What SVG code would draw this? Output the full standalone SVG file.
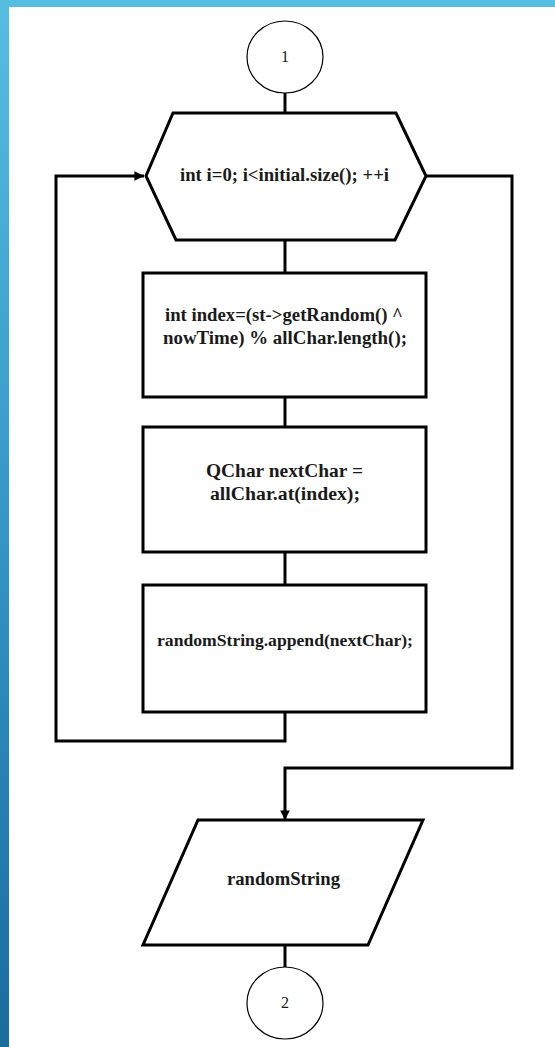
<svg xmlns="http://www.w3.org/2000/svg" width="555" height="1047" viewBox="0 0 555 1047">
  <defs>
    <linearGradient id="sideBar" x1="0" y1="0" x2="0" y2="1">
      <stop offset="0" stop-color="#55bee1"/>
      <stop offset="0.5" stop-color="#3596c7"/>
      <stop offset="1" stop-color="#1a6b9e"/>
    </linearGradient>
    <marker id="arrow" viewBox="0 0 10 10" refX="10" refY="5" markerWidth="3.2" markerHeight="3.2" markerUnits="strokeWidth" orient="auto">
      <path d="M0,0 L10,5 L0,10 Z" fill="#000"/>
    </marker>
    <style>
      .shape { fill: #fff; stroke: #000; stroke-width: 3; }
      .conn { fill: none; stroke: #000; stroke-width: 3; }
      .term { fill: #fff; stroke: #000; stroke-width: 1.2; }
      .lbl { font-family: "Liberation Serif", "Times New Roman", serif; font-weight: bold; font-size: 18px; fill: #1a1a1a; text-anchor: middle; }
      .num { font-family: "Liberation Serif", "Times New Roman", serif; font-size: 16px; fill: #1a1a1a; text-anchor: middle; }
    </style>
  </defs>

  <!-- page background with coloured frame -->
  <rect x="0" y="0" width="555" height="1047" fill="#fff"/>
  <rect x="0" y="0" width="555" height="7" fill="#55bee1"/>
  <rect x="0" y="0" width="9" height="1047" fill="url(#sideBar)"/>

  <!-- connectors -->
  <g id="connectors">
    <line class="conn" x1="285" y1="93" x2="285" y2="113"/>
    <line class="conn" x1="285" y1="240" x2="285" y2="273"/>
    <line class="conn" x1="285" y1="397" x2="285" y2="427"/>
    <line class="conn" x1="285" y1="552" x2="285" y2="585"/>
    <!-- loop back to the for-header -->
    <polyline class="conn" points="285,712 285,741 56,741 56,176 144,176" marker-end="url(#arrow)"/>
    <!-- loop exit -->
    <polyline class="conn" points="426,176 512,176 512,768 285,768 285,820" marker-end="url(#arrow)"/>
    <line class="conn" x1="285" y1="945" x2="285" y2="967"/>
  </g>

  <g id="start">
    <ellipse class="term" cx="285" cy="57" rx="38" ry="36"/>
    <text class="num" x="285" y="62">1</text>
  </g>

  <g id="loop">
    <polygon class="shape" points="173,113 396,113 426,176 395,240 176,240 146,176"/>
    <text class="lbl" x="284.5" y="181" textLength="209" lengthAdjust="spacingAndGlyphs">int i=0; i&lt;initial.size(); ++i</text>
  </g>

  <g id="index">
    <rect class="shape" x="143" y="273" width="283" height="124"/>
    <text class="lbl" x="284" y="321" textLength="238" lengthAdjust="spacingAndGlyphs">int index=(st-&gt;getRandom() ^</text>
    <text class="lbl" x="285" y="344" textLength="244" lengthAdjust="spacingAndGlyphs">nowTime) % allChar.length();</text>
  </g>

  <g id="nextchar">
    <rect class="shape" x="143" y="427" width="283" height="125"/>
    <text class="lbl" x="284.5" y="477" textLength="157" lengthAdjust="spacingAndGlyphs">QChar nextChar =</text>
    <text class="lbl" x="285" y="500" textLength="150" lengthAdjust="spacingAndGlyphs">allChar.at(index);</text>
  </g>

  <g id="append">
    <rect class="shape" x="143" y="585" width="283" height="127"/>
    <text class="lbl" x="285" y="646" style="font-size:16px" textLength="256" lengthAdjust="spacingAndGlyphs">randomString.append(nextChar);</text>
  </g>

  <g id="output">
    <polygon class="shape" points="198,820 423,820 368,945 143,945"/>
    <text class="lbl" x="283.5" y="885" textLength="113" lengthAdjust="spacingAndGlyphs">randomString</text>
  </g>

  <g id="end">
    <ellipse class="term" cx="285" cy="1003" rx="38" ry="36"/>
    <text class="num" x="285" y="1008">2</text>
  </g>
</svg>
